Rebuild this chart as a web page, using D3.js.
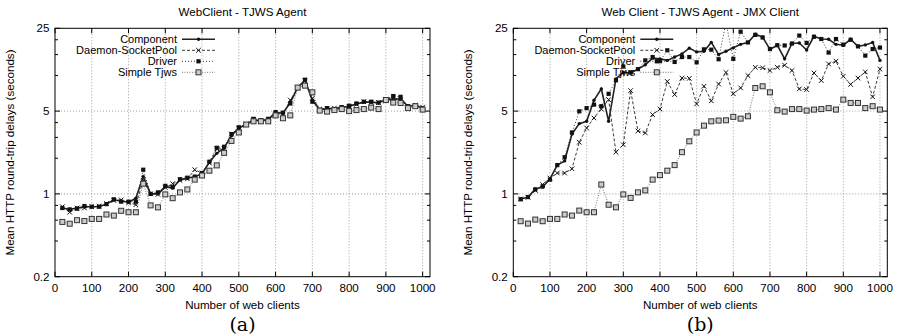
<!DOCTYPE html>
<html>
<head>
<meta charset="utf-8">
<script src="https://cdn.jsdelivr.net/npm/d3@7/dist/d3.min.js"></script>
<style>
  body { margin: 0; background: #fff; }
  svg { display: block; font-family: "Liberation Sans", Arial, sans-serif; }
</style>
</head>
<body>
<svg id="chart" width="900" height="336"></svg>
<script>
// x values: number of web clients, 20..1000 step 20
const clients = d3.range(20, 1001, 20);
const seriesNames = ["Component", "Daemon-SocketPool", "Driver", "Simple Tjws"];
const xTicks = [0, 100, 200, 300, 400, 500, 600, 700, 800, 900, 1000];
const yTicks = [0.2, 1, 5, 25];
const titles = ["WebClient - TJWS Agent", "Web Client - TJWS Agent - JMX Client"];
const captions = ["(a)", "(b)"];

// panel (a)
const aComponent = [0.76,0.74,0.76,0.78,0.78,0.78,0.82,0.89,0.87,0.85,0.92,1.4,1.0,1.0,1.15,1.12,1.32,1.36,1.39,1.48,
  1.85,2.2,2.45,3.1,3.6,3.85,4.2,4.15,4.25,4.85,4.8,5.9,7.9,9.1,6.2,5.15,5.25,5.25,5.35,5.5,
  5.75,5.95,5.95,5.85,6.25,6.25,6.35,5.5,5.6,5.3];
const aDaemon = [0.78,0.70,0.76,0.76,0.78,0.79,0.83,0.88,0.89,0.84,0.81,1.3,1.0,0.99,1.13,1.22,1.3,1.34,1.6,1.5,
  1.82,2.4,2.4,3.2,3.55,3.9,4.25,4.1,4.2,4.75,4.7,6.2,7.8,9.0,6.4,5.2,5.2,5.3,5.3,5.45,
  5.7,6.0,5.9,5.9,6.3,6.5,6.2,5.45,5.6,5.4];
const aDriver = [0.76,0.74,0.75,0.79,0.78,0.78,0.82,0.9,0.86,0.86,0.86,1.6,1.0,1.03,1.17,1.14,1.33,1.37,1.4,1.5,
  1.87,2.45,2.5,3.2,3.65,3.85,4.3,4.2,4.3,4.9,4.85,5.8,7.9,9.2,6.0,5.1,5.3,5.2,5.4,5.55,
  5.8,6.0,6.0,5.9,6.3,6.7,6.6,5.5,5.55,5.25];
const aSimple = [0.58,0.56,0.60,0.59,0.615,0.615,0.67,0.656,0.72,0.70,0.70,1.22,0.80,0.77,0.99,0.92,1.03,1.09,1.32,1.43,
  1.57,1.74,2.22,2.8,3.3,3.85,4.1,4.1,4.1,4.6,4.35,4.6,7.9,8.2,7.2,5.05,4.95,5.1,5.2,5.0,
  5.1,5.2,5.35,5.2,6.2,5.9,5.85,5.3,5.5,5.15];

// panel (b)
const bComponent = [0.907,0.937,1.1,1.14,1.34,1.75,1.9,3.2,3.92,4.1,6.17,7.7,4.1,9.35,10.6,10.5,11.3,12.3,14.0,13.8,
  13.4,14.3,15.2,17.0,15.8,16.0,19.0,15.0,16.0,17.1,18.3,19.0,22.3,21.1,16.6,18.0,13.8,18.6,18.8,16.4,
  21.4,20.3,20.2,18.3,18.0,20.2,17.6,18.1,19.0,13.4];
const bDaemon = [0.907,0.937,1.07,1.2,1.36,1.5,1.5,1.63,2.73,3.6,4.38,5.2,6.25,2.25,2.6,7.45,3.4,3.27,4.67,5.2,
  8.9,6.9,9.5,9.45,5.75,8.1,6.1,8.45,10.6,7.0,7.85,9.96,11.7,11.6,11.0,11.7,12.2,11.0,7.7,7.6,
  10.5,9.05,12.5,13.2,9.85,8.4,9.5,10.7,6.6,11.3];
const bDriver = [0.90,0.94,1.09,1.16,1.32,1.75,2.04,3.3,4.98,5.3,5.67,5.5,7.0,9.1,11.9,10.6,11.3,13.4,14.3,13.2,
  16.3,13.0,14.3,14.3,12.9,16.6,16.5,13.7,28,13.8,23.4,19.0,22.0,20.9,16.7,18.0,17.9,18.6,21.7,18.8,
  21.2,20.3,15.6,20.3,18.2,20.0,17.6,14.7,16.7,17.2];
const bSimple = [0.588,0.562,0.607,0.588,0.615,0.615,0.67,0.656,0.723,0.70,0.70,1.2,0.81,0.77,0.99,0.925,1.03,1.07,1.32,1.44,
  1.57,1.75,2.25,2.78,3.3,3.77,4.1,4.16,4.18,4.47,4.32,4.52,7.83,8.1,7.2,5.08,4.95,5.2,5.2,5.05,
  5.15,5.2,5.3,5.15,6.25,5.86,5.86,5.3,5.5,5.15];

const panelValues = [
  [aComponent, aDaemon, aDriver, aSimple],
  [bComponent, bDaemon, bDriver, bSimple]
];

// line / marker looks, one per series
const looks = [
  {stroke: "#222", width: 1.6, dash: null, mark: "dot"},
  {stroke: "#222", width: 0.9, dash: "3,2", mark: "cross"},
  {stroke: "#222", width: 0.9, dash: "1,2", mark: "fsquare"},
  {stroke: "#666", width: 0.9, dash: "1,1.5", mark: "osquare"}
];

const fs = 11.6;
const legendFs = 11;
const svg = d3.select("#chart");
const frames = [{left: 55, right: 430}, {left: 513.3, right: 887.3}];
const plotTop = 28.3, plotBottom = 276.7;

function drawMark(g, kind, x, y) {
  if (kind === "dot") {
    g.append("circle").attr("cx", x).attr("cy", y).attr("r", 1.7).attr("fill", "#111");
  } else if (kind === "cross") {
    g.append("path")
      .attr("d", `M${x-2.3},${y-2.3}L${x+2.3},${y+2.3}M${x-2.3},${y+2.3}L${x+2.3},${y-2.3}`)
      .attr("stroke", "#111").attr("stroke-width", 1);
  } else if (kind === "fsquare") {
    g.append("rect").attr("x", x-2.1).attr("y", y-2.1).attr("width", 4.2).attr("height", 4.2).attr("fill", "#111");
  } else {
    g.append("rect").attr("x", x-2.5).attr("y", y-2.5).attr("width", 5).attr("height", 5)
      .attr("fill", "#ccc").attr("stroke", "#333").attr("stroke-width", 1);
  }
}

frames.forEach((f, p) => {
  const x = d3.scaleLinear().domain([0, 1020]).range([f.left, f.right]);
  const y = d3.scaleLog().base(5).domain([0.2, 25]).range([plotBottom, plotTop]);
  const g = svg.append("g");
  const clipId = "clip" + p;

  g.append("clipPath").attr("id", clipId).append("rect")
    .attr("x", f.left).attr("y", plotTop).attr("width", f.right - f.left).attr("height", plotBottom - plotTop);

  // grid
  const grid = g.append("g").attr("stroke", "#888").attr("stroke-width", 0.8).attr("stroke-dasharray", "1,2");
  xTicks.filter(t => t > 0).forEach(t => {
    grid.append("line").attr("x1", x(t)).attr("x2", x(t)).attr("y1", plotTop).attr("y2", plotBottom);
  });
  [1, 5].forEach(t => {
    grid.append("line").attr("x1", f.left).attr("x2", f.right).attr("y1", y(t)).attr("y2", y(t));
  });

  // ticks (inward, mirrored)
  const ticks = g.append("g").attr("stroke", "#000").attr("stroke-width", 1);
  xTicks.forEach(t => {
    ticks.append("line").attr("x1", x(t)).attr("x2", x(t)).attr("y1", plotBottom).attr("y2", plotBottom - 5);
    ticks.append("line").attr("x1", x(t)).attr("x2", x(t)).attr("y1", plotTop).attr("y2", plotTop + 5);
  });
  const minor = [];
  [0.2, 1, 5].forEach(b => [2, 3, 4].forEach(m => minor.push(b * m)));
  yTicks.forEach(t => {
    ticks.append("line").attr("x1", f.left).attr("x2", f.left + 5).attr("y1", y(t)).attr("y2", y(t));
    ticks.append("line").attr("x1", f.right).attr("x2", f.right - 5).attr("y1", y(t)).attr("y2", y(t));
  });
  minor.forEach(t => {
    ticks.append("line").attr("x1", f.left).attr("x2", f.left + 3).attr("y1", y(t)).attr("y2", y(t));
    ticks.append("line").attr("x1", f.right).attr("x2", f.right - 3).attr("y1", y(t)).attr("y2", y(t));
  });

  // tick labels
  g.append("g").selectAll("text").data(xTicks).join("text")
    .attr("x", d => x(d)).attr("y", 291.5).attr("text-anchor", "middle")
    .attr("font-size", fs).text(d => d);
  g.append("g").selectAll("text").data(yTicks).join("text")
    .attr("x", f.left - 5.5).attr("y", d => y(d) + 4).attr("text-anchor", "end")
    .attr("font-size", fs).text(d => d);

  // series
  const plot = g.append("g").attr("clip-path", `url(#${clipId})`);
  const line = d3.line().x((d, i) => x(clients[i])).y(d => y(d));
  panelValues[p].forEach((vals, s) => {
    const lk = looks[s];
    plot.append("path").attr("d", line(vals)).attr("fill", "none")
      .attr("stroke", lk.stroke).attr("stroke-width", lk.width)
      .attr("stroke-dasharray", lk.dash);
    vals.forEach((v, i) => { if (v <= 25) drawMark(plot, lk.mark, x(clients[i]), y(v)); });
  });

  // legend
  seriesNames.forEach((name, s) => {
    const ly = plotTop + 11 + s * 11;
    const lk = looks[s];
    g.append("text").attr("x", f.left + 122).attr("y", ly + 3.8).attr("text-anchor", "end")
      .attr("font-size", legendFs).text(name);
    g.append("line").attr("x1", f.left + 127).attr("x2", f.left + 160).attr("y1", ly).attr("y2", ly)
      .attr("stroke", lk.stroke).attr("stroke-width", lk.width).attr("stroke-dasharray", lk.dash);
    drawMark(g, lk.mark, f.left + 143.5, ly);
  });

  // frame
  g.append("rect").attr("x", f.left).attr("y", plotTop).attr("width", f.right - f.left).attr("height", plotBottom - plotTop)
    .attr("fill", "none").attr("stroke", "#000").attr("stroke-width", 1);

  // titles and labels
  const cx = (f.left + f.right) / 2;
  g.append("text").attr("x", cx).attr("y", 16).attr("text-anchor", "middle").attr("font-size", fs).text(titles[p]);
  g.append("text").attr("x", cx).attr("y", 308.5).attr("text-anchor", "middle").attr("font-size", fs)
    .text("Number of web clients");
  g.append("text").attr("transform", `translate(${f.left - 41},${(plotTop + plotBottom) / 2}) rotate(-90)`)
    .attr("text-anchor", "middle").attr("font-size", fs)
    .text("Mean HTTP round-trip delays (seconds)");
  g.append("text").attr("x", cx).attr("y", 331).attr("text-anchor", "middle")
    .attr("font-family", "'DejaVu Serif', 'Liberation Serif', serif").attr("font-size", 19)
    .text(captions[p]);
});
</script>
</body>
</html>
